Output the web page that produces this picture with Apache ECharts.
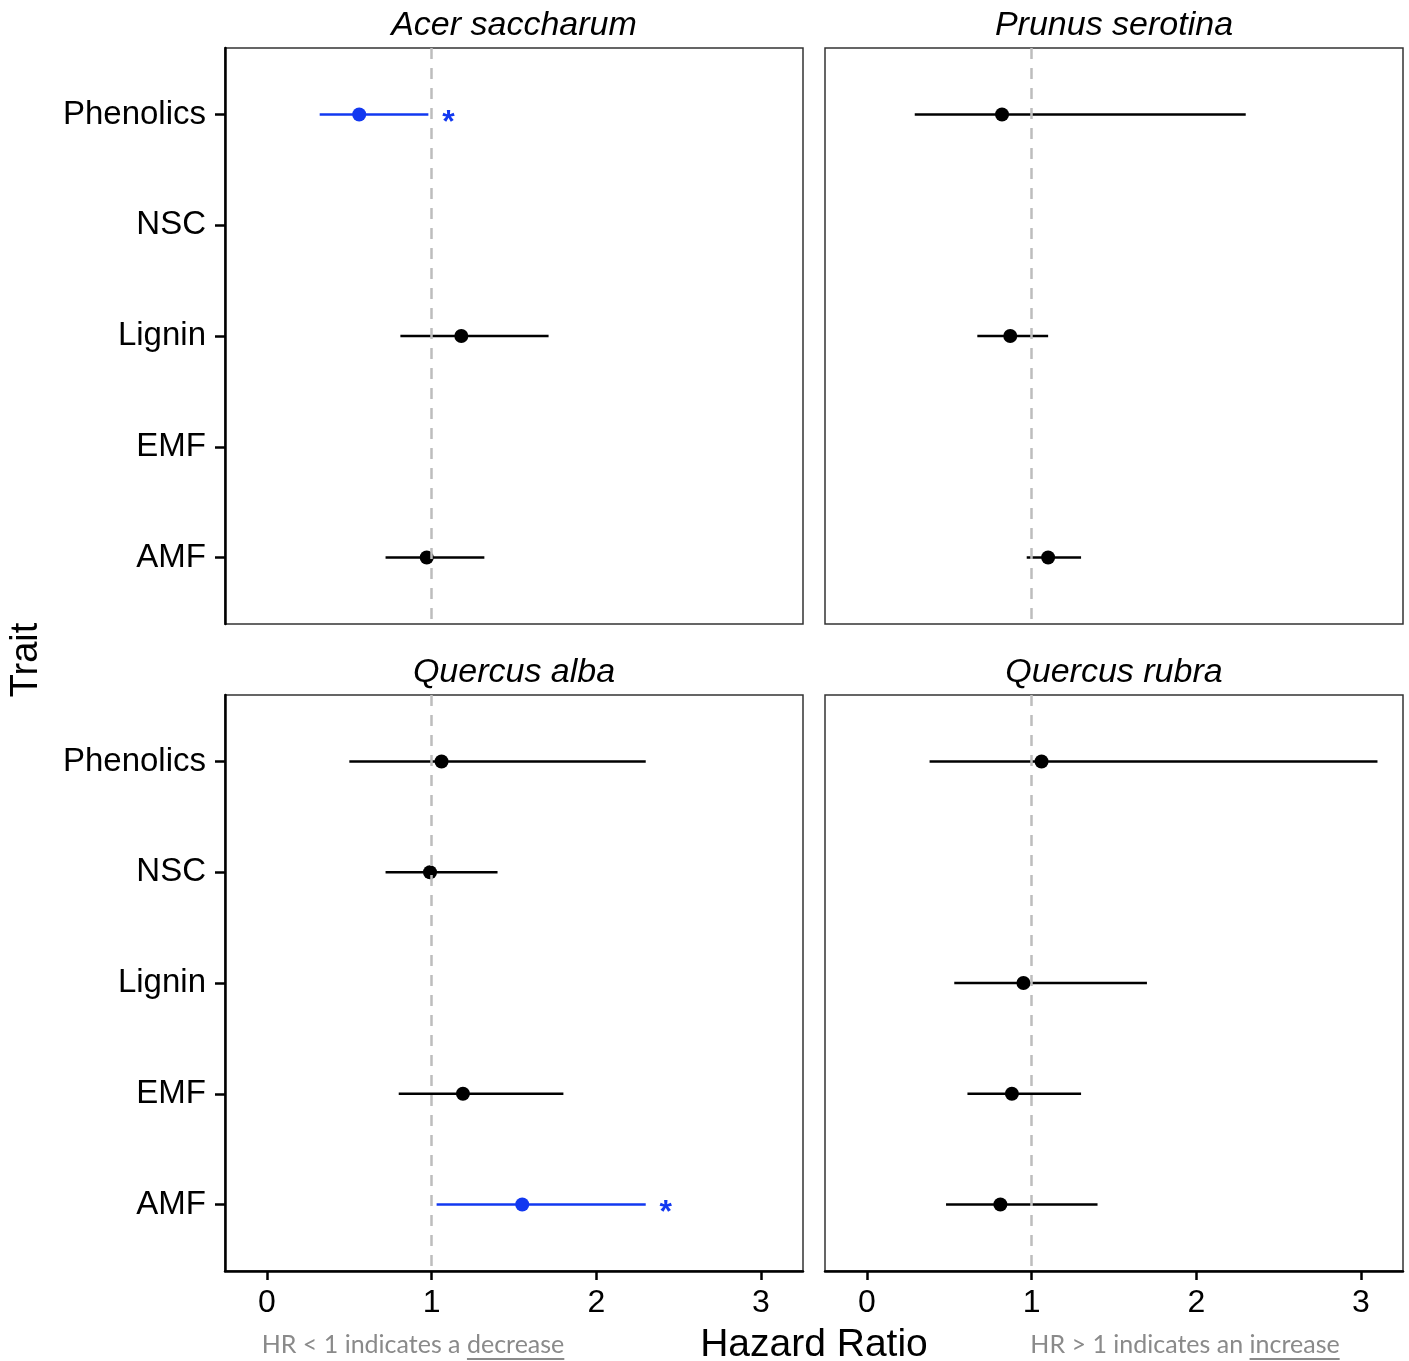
<!DOCTYPE html>
<html><head><meta charset="utf-8">
<script src="https://cdn.jsdelivr.net/npm/echarts@6/dist/echarts.min.js"></script>
<style>html,body{margin:0;padding:0;background:#fff}#c{width:1409px;height:1361px}</style>
</head><body><div id="c"></div>
<script>
// ---- data ----
const species = ['Acer saccharum', 'Prunus serotina', 'Quercus alba', 'Quercus rubra'];
const traits = ['Phenolics', 'NSC', 'Lignin', 'EMF', 'AMF'];
const xTicks = [0, 1, 2, 3];

const hrAcer   = [0.56, null, 1.18, null, 0.97];
const lowAcer  = [0.32, null, 0.81, null, 0.72];
const highAcer = [0.98, null, 1.71, null, 1.32];
const sigAcer  = [true, false, false, false, false];

const hrPrunus   = [0.82, null, 0.87, null, 1.10];
const lowPrunus  = [0.29, null, 0.67, null, 0.97];
const highPrunus = [2.30, null, 1.10, null, 1.30];
const sigPrunus  = [false, false, false, false, false];

const hrAlba   = [1.06, 0.99, null, 1.19, 1.55];
const lowAlba  = [0.50, 0.72, null, 0.80, 1.03];
const highAlba = [2.30, 1.40, null, 1.80, 2.30];
const sigAlba  = [false, false, false, false, true];

const hrRubra   = [1.06, null, 0.95, 0.88, 0.81];
const lowRubra  = [0.38, null, 0.53, 0.61, 0.48];
const highRubra = [3.10, null, 1.70, 1.30, 1.40];
const sigRubra  = [false, false, false, false, false];

const referenceHR = 1;
const noteLeft = ['HR < 1 indicates a ', 'decrease'];
const noteRight = ['HR > 1 indicates an ', 'increase'];

// ---- build ----
const panels = [
  {hr: hrAcer, low: lowAcer, high: highAcer, sig: sigAcer},
  {hr: hrPrunus, low: lowPrunus, high: highPrunus, sig: sigPrunus},
  {hr: hrAlba, low: lowAlba, high: highAlba, sig: sigAlba},
  {hr: hrRubra, low: lowRubra, high: highRubra, sig: sigRubra}
];
const BLUE = '#1238f0';
const FONT = '"Liberation Sans", Arial, sans-serif';
const gridPos = [
  {left: 225, top: 48, width: 578, height: 576},
  {left: 825, top: 48, width: 578, height: 576},
  {left: 225, top: 695, width: 578, height: 576},
  {left: 825, top: 695, width: 578, height: 576}
];

const grid = [], xAxis = [], yAxis = [], series = [], graphic = [];
gridPos.forEach((g, i) => {
  const isLeft = i % 2 === 0, isBottom = i >= 2;
  grid.push(Object.assign({show: true, borderColor: '#333', borderWidth: 1.5, backgroundColor: '#fff'}, g));
  xAxis.push({
    type: 'value', gridIndex: i, min: -0.255, max: 3.255,
    splitLine: {show: false},
    axisLine: {show: isBottom, onZero: false, lineStyle: {color: '#000', width: 2.5}},
    axisTick: {show: isBottom, customValues: xTicks, length: 9, lineStyle: {color: '#000', width: 2.5}},
    axisLabel: {show: isBottom, customValues: xTicks, fontSize: 32, color: '#000', fontFamily: FONT, margin: 16}
  });
  yAxis.push({
    type: 'value', gridIndex: i, min: 0.4, max: 5.6, inverse: true,
    splitLine: {show: false},
    axisLine: {show: isLeft, onZero: false, lineStyle: {color: '#000', width: 2.5}},
    axisTick: {show: isLeft, customValues: [1, 2, 3, 4, 5], length: 10, lineStyle: {color: '#000', width: 2.5}},
    axisLabel: {show: isLeft, customValues: [1, 2, 3, 4, 5], fontSize: 33, color: '#000', fontFamily: FONT, margin: 19,
      formatter: v => traits[Math.round(v) - 1]}
  });
  const p = panels[i];
  const barData = [], ptData = [];
  traits.forEach((t, k) => {
    if (p.hr[k] == null) return;
    barData.push([p.low[k], p.high[k], k + 1, p.sig[k] ? 1 : 0]);
    ptData.push({value: [p.hr[k], k + 1], itemStyle: {color: p.sig[k] ? BLUE : '#000', opacity: 1}});
  });
  series.push({
    type: 'scatter', xAxisIndex: i, yAxisIndex: i, data: [], silent: true, z: 1,
    markLine: {silent: true, symbol: 'none', label: {show: false},
      lineStyle: {color: '#bdbdbd', width: 2.5, type: [11, 9]},
      data: [{xAxis: referenceHR}]}
  });
  series.push({
    type: 'custom', xAxisIndex: i, yAxisIndex: i, data: barData, z: 3, silent: true,
    encode: {x: [0, 1], y: 2},
    renderItem: (params, api) => {
      const a = api.coord([api.value(0), api.value(2)]);
      const b = api.coord([api.value(1), api.value(2)]);
      const sig = api.value(3) === 1;
      const color = sig ? BLUE : '#000';
      const children = [{type: 'line', shape: {x1: a[0], y1: a[1], x2: b[0], y2: b[1]},
        style: {stroke: color, lineWidth: 2.5}}];
      if (sig) children.push({type: 'text', x: b[0] + 20, y: b[1] + 9,
        style: {text: '*', fill: BLUE, font: 'bold 32px ' + FONT, textAlign: 'center', textVerticalAlign: 'middle'}});
      return {type: 'group', children};
    }
  });
  series.push({
    type: 'scatter', xAxisIndex: i, yAxisIndex: i, data: ptData, symbolSize: 14, z: 4, silent: true,
    itemStyle: {opacity: 1}
  });
  graphic.push({type: 'text', x: g.left + g.width / 2, y: g.top - 22,
    style: {text: species[i], font: 'italic 34px ' + FONT, fill: '#000', textAlign: 'center', textVerticalAlign: 'middle'}});
});

graphic.push({type: 'text', x: 27, y: 660, rotation: Math.PI / 2,
  style: {text: 'Trait', font: '38px ' + FONT, fill: '#000', textAlign: 'center', textVerticalAlign: 'middle'}});
graphic.push({type: 'text', x: 814, y: 1345,
  style: {text: 'Hazard Ratio', font: '39px ' + FONT, fill: '#000', textAlign: 'center', textVerticalAlign: 'middle'}});

const noteFont = '25px Lato, "Open Sans", sans-serif';
const ctx = document.createElement('canvas').getContext('2d');
ctx.font = noteFont;
function note(parts, cx, cy) {
  const full = parts.join('');
  const w = ctx.measureText(full).width;
  const w0 = ctx.measureText(parts[0]).width;
  const start = cx - w / 2;
  graphic.push({type: 'text', x: cx, y: cy,
    style: {text: full, font: noteFont, fill: '#8a8a8a', textAlign: 'center', textVerticalAlign: 'middle'}});
  graphic.push({type: 'line', shape: {x1: start + w0, y1: cy + 14, x2: start + w, y2: cy + 14},
    style: {stroke: '#8a8a8a', lineWidth: 2}});
}
note(noteLeft, 413, 1345);
note(noteRight, 1185, 1345);

const chart = echarts.init(document.getElementById('c'), null, {renderer: 'canvas'});
chart.setOption({animation: false, backgroundColor: '#fff', grid, xAxis, yAxis, series, graphic});
</script></body></html>
